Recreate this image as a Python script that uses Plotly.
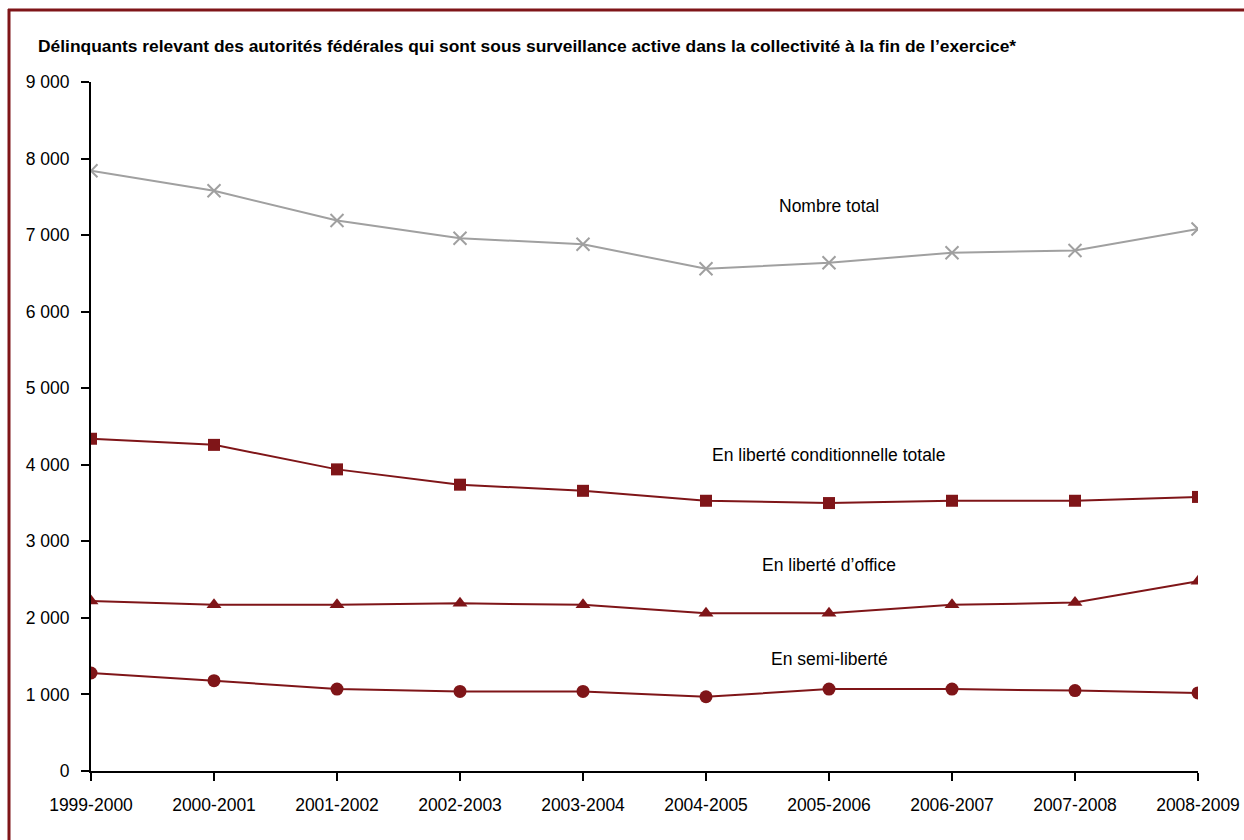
import plotly.graph_objects as go

years = ["1999-2000", "2000-2001", "2001-2002", "2002-2003", "2003-2004",
         "2004-2005", "2005-2006", "2006-2007", "2007-2008", "2008-2009"]
total = [7840, 7580, 7190, 6960, 6880, 6560, 6640, 6770, 6800, 7080]
cond_totale = [4340, 4260, 3940, 3740, 3660, 3530, 3500, 3530, 3530, 3580]
office = [2220, 2170, 2170, 2190, 2170, 2060, 2060, 2170, 2200, 2480]
semi = [1280, 1180, 1070, 1040, 1040, 970, 1070, 1070, 1050, 1020]

labels = ["Nombre total", "En liberté conditionnelle totale",
          "En liberté d’office", "En semi-liberté"]
label_y = [7380, 4130, 2690, 1460]

title = ("Délinquants relevant des autorités fédérales qui sont sous surveillance "
         "active dans la collectivité à la fin de l’exercice*")

RED = "#7f1518"
GRAY = "#a0a0a0"
FONT = "Liberation Sans Narrow, Arial Narrow, Liberation Sans, Arial, sans-serif"

fig = go.Figure()
xs = list(range(len(years)))
fig.add_trace(go.Scatter(x=xs, y=total, mode="lines+markers",
                         line=dict(color=GRAY, width=2),
                         marker=dict(symbol="x-thin-open", size=13,
                                     line=dict(color=GRAY, width=2))))
fig.add_trace(go.Scatter(x=xs, y=cond_totale, mode="lines+markers",
                         line=dict(color=RED, width=2),
                         marker=dict(symbol="square", size=12, color=RED)))
fig.add_trace(go.Scatter(x=xs, y=office, mode="lines+markers",
                         line=dict(color=RED, width=2),
                         marker=dict(symbol="triangle-up", size=13, color=RED)))
fig.add_trace(go.Scatter(x=xs, y=semi, mode="lines+markers",
                         line=dict(color=RED, width=2),
                         marker=dict(symbol="circle", size=13, color=RED)))

for t, yv in zip(labels, label_y):
    fig.add_annotation(x=6, y=yv, text=t, showarrow=False,
                       font=dict(family=FONT, size=17.5, color="#000000"),
                       xanchor="center", yanchor="middle")

L, R, T, B = 91, 46, 82, 69
W, H = 1244, 840
pw, ph = W - L - R, H - T - B

def px_x(p):
    return (p - L) / pw

def px_y(p):
    return (H - B - p) / ph

fig.add_annotation(x=px_x(36), y=px_y(46), xref="paper", yref="paper",
                   text="<b>" + title + "</b>", showarrow=False,
                   xanchor="left", yanchor="middle",
                   font=dict(family=FONT, size=17.4, color="#000000"))

# outer border (top and left)
fig.add_shape(type="line", xref="paper", yref="paper",
              x0=px_x(8), x1=px_x(1260), y0=px_y(10), y1=px_y(10),
              line=dict(color=RED, width=3))
fig.add_shape(type="line", xref="paper", yref="paper",
              x0=px_x(9), x1=px_x(9), y0=px_y(9), y1=px_y(860),
              line=dict(color=RED, width=3))

fig.update_layout(
    width=W, height=H,
    margin=dict(l=L, r=R, t=T, b=B, pad=0, autoexpand=False),
    paper_bgcolor="white", plot_bgcolor="white",
    showlegend=False,
    font=dict(family=FONT, size=17, color="#000000"),
)
fig.update_xaxes(range=[0, 9], tickvals=xs, ticktext=years,
                 showgrid=False, zeroline=False, automargin=False,
                 showline=True, linecolor="black", linewidth=2,
                 ticks="outside", ticklen=8, tickwidth=2, tickcolor="black",
                 ticklabelstandoff=9,
                 tickfont=dict(family=FONT, size=17.5, color="#000000"))
fig.update_yaxes(range=[0, 9000], tickvals=list(range(0, 9001, 1000)),
                 ticktext=["0"] + [f"{v} 000" for v in range(1, 10)],
                 showgrid=False, zeroline=False, automargin=False,
                 showline=True, linecolor="black", linewidth=2,
                 ticks="outside", ticklen=8, tickwidth=2, tickcolor="black",
                 ticklabelstandoff=8,
                 tickfont=dict(family=FONT, size=17.5, color="#000000"))

fig.write_html("out.html",
               config={"displayModeBar": False},
               post_script="document.body.style.margin='0';document.body.style.overflow='hidden';")
